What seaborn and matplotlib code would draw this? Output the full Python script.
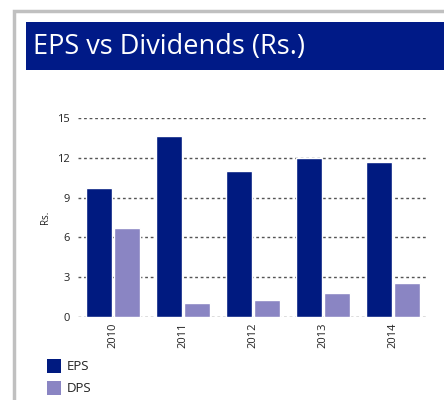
import pandas as pd
import numpy as np
import seaborn as sns
import matplotlib.pyplot as plt
from matplotlib.patches import Rectangle

years = ['2010', '2011', '2012', '2013', '2014']
eps = [9.7, 13.65, 11.0, 11.98, 11.68]
dps = [6.7, 1.08, 1.28, 1.83, 2.56]
series = ['EPS', 'DPS']
colors = ['#001a80', '#8a85c3']

df = pd.DataFrame({
    'year': years * 2,
    'value': eps + dps,
    'series': ['EPS'] * len(years) + ['DPS'] * len(years),
})

sns.set_style('white')
plt.rcParams['font.family'] = ['Open Sans', 'DejaVu Sans']

fig = plt.figure(figsize=(4.44, 4.0), dpi=100)

# outer panel border and title bar
fig.patches.append(Rectangle((14 / 444, -0.1), 1.1, (400 - 11) / 400 + 0.1,
                             transform=fig.transFigure, fill=False,
                             edgecolor='#c0c0c0', linewidth=2.5))
fig.patches.append(Rectangle((26 / 444, 1 - 70 / 400), 1.0, 48 / 400,
                             transform=fig.transFigure, facecolor='#001a87',
                             edgecolor='none'))
fig.text(33 / 444, 1 - 47 / 400, 'EPS vs Dividends (Rs.)', color='white',
         fontsize=19.5, va='center', ha='left')

ax = fig.add_axes([78 / 444, 1 - 317 / 400, (428 - 78) / 444, (317 - 118) / 400])
sns.barplot(data=df, x='year', y='value', hue='series', hue_order=series,
            palette=colors, ax=ax, width=0.8, gap=0.05, saturation=1,
            legend=False)

ax.set_ylim(0, 15)
ax.set_xlim(-0.5, 4.5)
ax.set_yticks([0, 3, 6, 9, 12, 15])
ax.yaxis.grid(True, linestyle=(0, (2, 2)), color='#555555', linewidth=1)
ax.set_axisbelow(True)
for s in ax.spines.values():
    s.set_visible(False)
ax.tick_params(axis='y', labelsize=8, colors='#222222', length=0, pad=6)
ax.tick_params(axis='x', labelsize=8, colors='#222222', length=0, pad=4,
               rotation=90)
ax.set_xlabel('')
ax.set_ylabel('Rs.', fontsize=7, color='#222222', labelpad=4)

# legend below
for i, (name, c) in enumerate(zip(series, colors)):
    y = 1 - (366 + 22 * i) / 400
    fig.patches.append(Rectangle((47 / 444, y - 7 / 400), 14 / 444, 14 / 400,
                                 transform=fig.transFigure, facecolor=c,
                                 edgecolor='none'))
    fig.text(67 / 444, y, name, fontsize=9.5, va='center', ha='left',
             color='#222222')

fig.savefig('out.png', dpi=100)
